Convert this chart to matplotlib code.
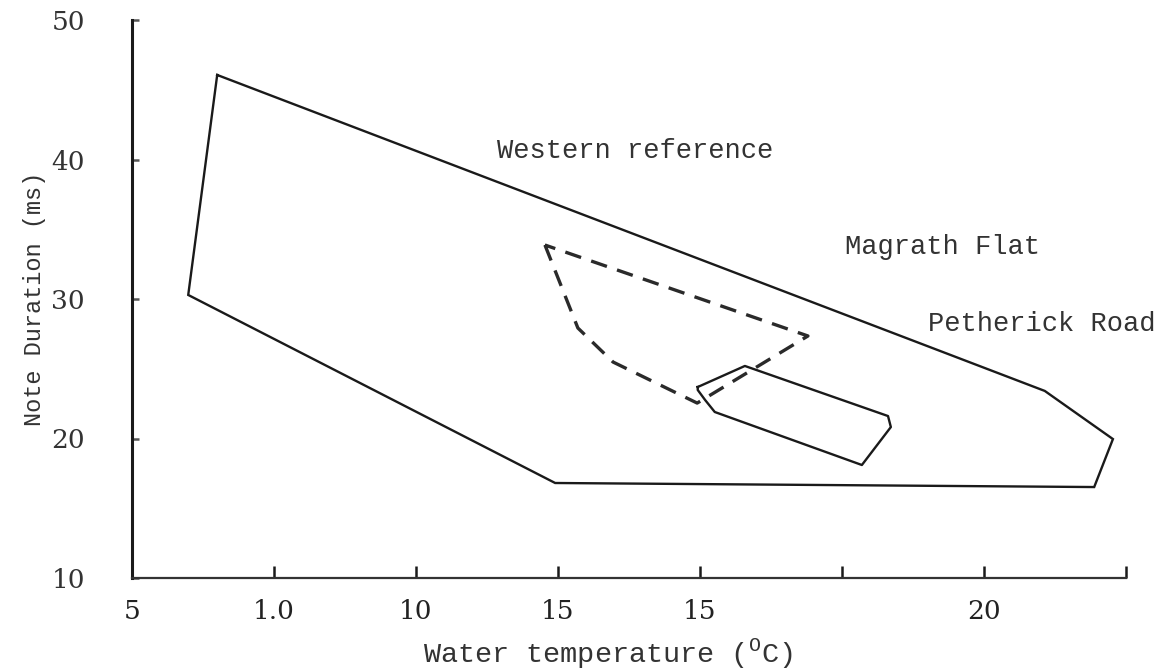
import matplotlib
matplotlib.use("Agg")
import matplotlib.pyplot as plt

# Axis ticks and their (as printed) labels
x_ticks = [5, 7.5, 10, 12.5, 15, 17.5, 20, 22.5]
x_tick_labels = ["5", "1.0", "10", "15", "15", "", "20", ""]
y_ticks = [10, 20, 30, 40, 50]
y_tick_labels = ["10", "20", "30", "40", "50"]

# Envelope outlines: water temperature (x) vs note duration (y)
western_x = [6.50, 5.99, 12.45, 21.94, 22.27, 21.07]
western_y = [46.06, 30.29, 16.81, 16.52, 19.96, 23.41]

magrath_x = [12.27, 12.85, 13.47, 14.95, 16.90]
magrath_y = [33.87, 27.92, 25.48, 22.54, 27.35]

petherick_x = [14.96, 15.79, 18.31, 18.36, 17.85, 15.26, 15.09, 14.96]
petherick_y = [23.69, 25.20, 21.61, 20.82, 18.10, 21.90, 22.76, 23.48]

site_labels = ["Western reference", "Magrath Flat", "Petherick Road"]
label_x = [11.43, 17.55, 19.01]
label_y = [40.6, 33.7, 28.2]

plt.rcParams["mathtext.fontset"] = "custom"
plt.rcParams["mathtext.rm"] = "Liberation Mono"

fig = plt.figure(figsize=(11.7, 6.69), dpi=100)
ax = fig.add_axes([132 / 1170, 91 / 669, (1126 - 132) / 1170, (578 - 20) / 669])
ax.set_xlim(5, 22.5)
ax.set_ylim(10, 50)

ink = "#1a1a1a"


def closed(xs, ys):
    return list(xs) + [xs[0]], list(ys) + [ys[0]]


wx, wy = closed(western_x, western_y)
ax.plot(wx, wy, color=ink, lw=1.7, solid_joinstyle="miter")

mx, my = closed(magrath_x, magrath_y)
ax.plot(mx, my, color="#2a2a2a", lw=2.4, linestyle=(0, (5, 3.2)))

px, py = closed(petherick_x, petherick_y)
ax.plot(px, py, color=ink, lw=1.7)

mono = "Liberation Mono"
for t, lx, ly in zip(site_labels, label_x, label_y):
    ax.text(lx, ly, t, family=mono, fontsize=19.5, color="#333333",
            ha="left", va="center")

for s in ["top", "right"]:
    ax.spines[s].set_visible(False)
ax.spines["left"].set_linewidth(2.2)
ax.spines["left"].set_color(ink)
ax.spines["bottom"].set_linewidth(1.6)
ax.spines["bottom"].set_color("#333333")

ax.set_xticks(x_ticks)
ax.set_xticklabels(x_tick_labels)
ax.set_yticks(y_ticks)
ax.set_yticklabels(y_tick_labels)
ax.tick_params(axis="x", direction="in", length=9, width=1.8, color=ink,
               pad=15, labelsize=19, labelcolor="#222222")
ax.tick_params(axis="y", direction="in", length=5, width=1.8, color="#555555",
               pad=34, labelsize=19, labelcolor="#333333")
for lab in ax.get_xticklabels() + ax.get_yticklabels():
    lab.set_family("DejaVu Serif")
    lab.set_fontweight("light")

ax.set_xlabel(r"Water temperature ($^{\mathrm{O}}$C)", family=mono,
              fontsize=20.5, color="#333333", labelpad=6)
ax.xaxis.set_label_coords(0.479, -0.105)
ax.set_ylabel("Note Duration (ms)", family=mono, fontsize=17,
              color="#333333", labelpad=4)

fig.savefig("out.png", dpi=100, facecolor="white")
